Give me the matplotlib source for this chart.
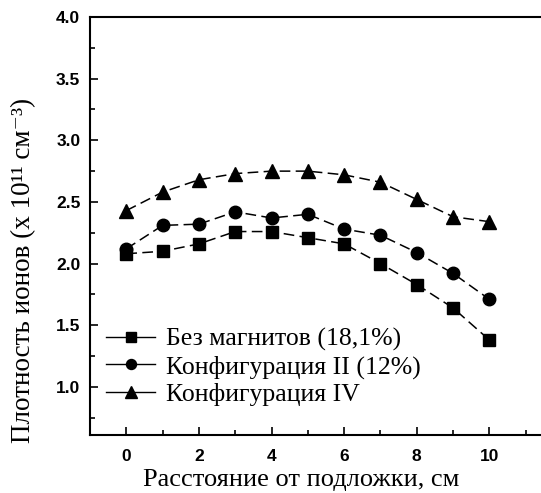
import matplotlib
matplotlib.use("Agg")
import matplotlib.pyplot as plt
from matplotlib.ticker import MultipleLocator
from matplotlib.lines import Line2D

x = [0, 1, 2, 3, 4, 5, 6, 7, 8, 9, 10]
no_magnets = [2.08, 2.10, 2.16, 2.26, 2.26, 2.21, 2.16, 2.00, 1.83, 1.64, 1.38]
config_ii = [2.12, 2.31, 2.32, 2.42, 2.37, 2.40, 2.28, 2.23, 2.09, 1.92, 1.71]
config_iv = [2.43, 2.58, 2.68, 2.73, 2.75, 2.75, 2.72, 2.66, 2.52, 2.38, 2.34]
labels = ["Без магнитов (18,1%)", "Конфигурация II (12%)", "Конфигурация IV"]
x_ticks = [0, 2, 4, 6, 8, 10]
y_ticks = [1.0, 1.5, 2.0, 2.5, 3.0, 3.5, 4.0]
x_label = "Расстояние от подложки, см"
y_label = "Плотность ионов (x 10¹¹ см⁻³)"

W, H = 541, 493
fig = plt.figure(figsize=(W / 100, H / 100), dpi=100)
ax = fig.add_axes([90 / W, (H - 435) / H, (W - 90) / W, (435 - 17) / H])

serif = ["Liberation Serif", "DejaVu Serif"]
ls = (0, (7, 3.5))
markers = ["s", "o", "^"]
sizes = [8.5, 9, 10]
handles = []
for vals, m, ms, lab in zip([no_magnets, config_ii, config_iv], markers, sizes, labels):
    ax.plot(x, vals, linestyle=ls, color="black", linewidth=1.1,
            marker=m, markersize=ms, markerfacecolor="black",
            markeredgecolor="black")
    handles.append(Line2D([], [], linestyle="-", color="black", linewidth=1.0,
                          marker=m, markersize=ms * 0.8, markerfacecolor="black",
                          markeredgecolor="black", label=lab))

ax.set_xlim(-1, 11.42)
ax.set_ylim(0.61, 4.0)
ax.xaxis.set_minor_locator(MultipleLocator(1))
ax.yaxis.set_minor_locator(MultipleLocator(0.25))
ax.set_xticks(x_ticks)
ax.set_yticks(y_ticks)
tick_font = dict(fontfamily="Liberation Sans", fontweight="bold", fontsize=12.5)
ax.set_yticklabels(["%.1f" % v for v in y_ticks], **tick_font)
ax.set_xticklabels([str(v) for v in x_ticks], **tick_font)
ax.tick_params(which="both", direction="in", top=False, right=False,
               width=1.2, color="black")
ax.tick_params(which="major", length=6)
ax.tick_params(which="minor", length=3.5)
ax.tick_params(axis="y", pad=7)
ax.tick_params(axis="x", pad=10)

ax.spines["right"].set_visible(False)
for s in ["left", "bottom", "top"]:
    ax.spines[s].set_linewidth(1.5)

fig.text(301 / W, 1 - 486 / H, x_label, fontfamily=serif, fontsize=19,
         ha="center", va="baseline")
fig.text(24 / W, 1 - 270 / H, y_label, fontfamily=serif, fontsize=19.5,
         rotation=90, ha="center", va="center")

ax.legend(handles=handles, loc="lower left", bbox_to_anchor=(0.025, 0.058),
          frameon=False, prop={"family": serif, "size": 18.5},
          handlelength=1.9, handletextpad=0.4, labelspacing=0.15,
          borderaxespad=0.0, borderpad=0.2)

fig.savefig("out.png", dpi=100)
